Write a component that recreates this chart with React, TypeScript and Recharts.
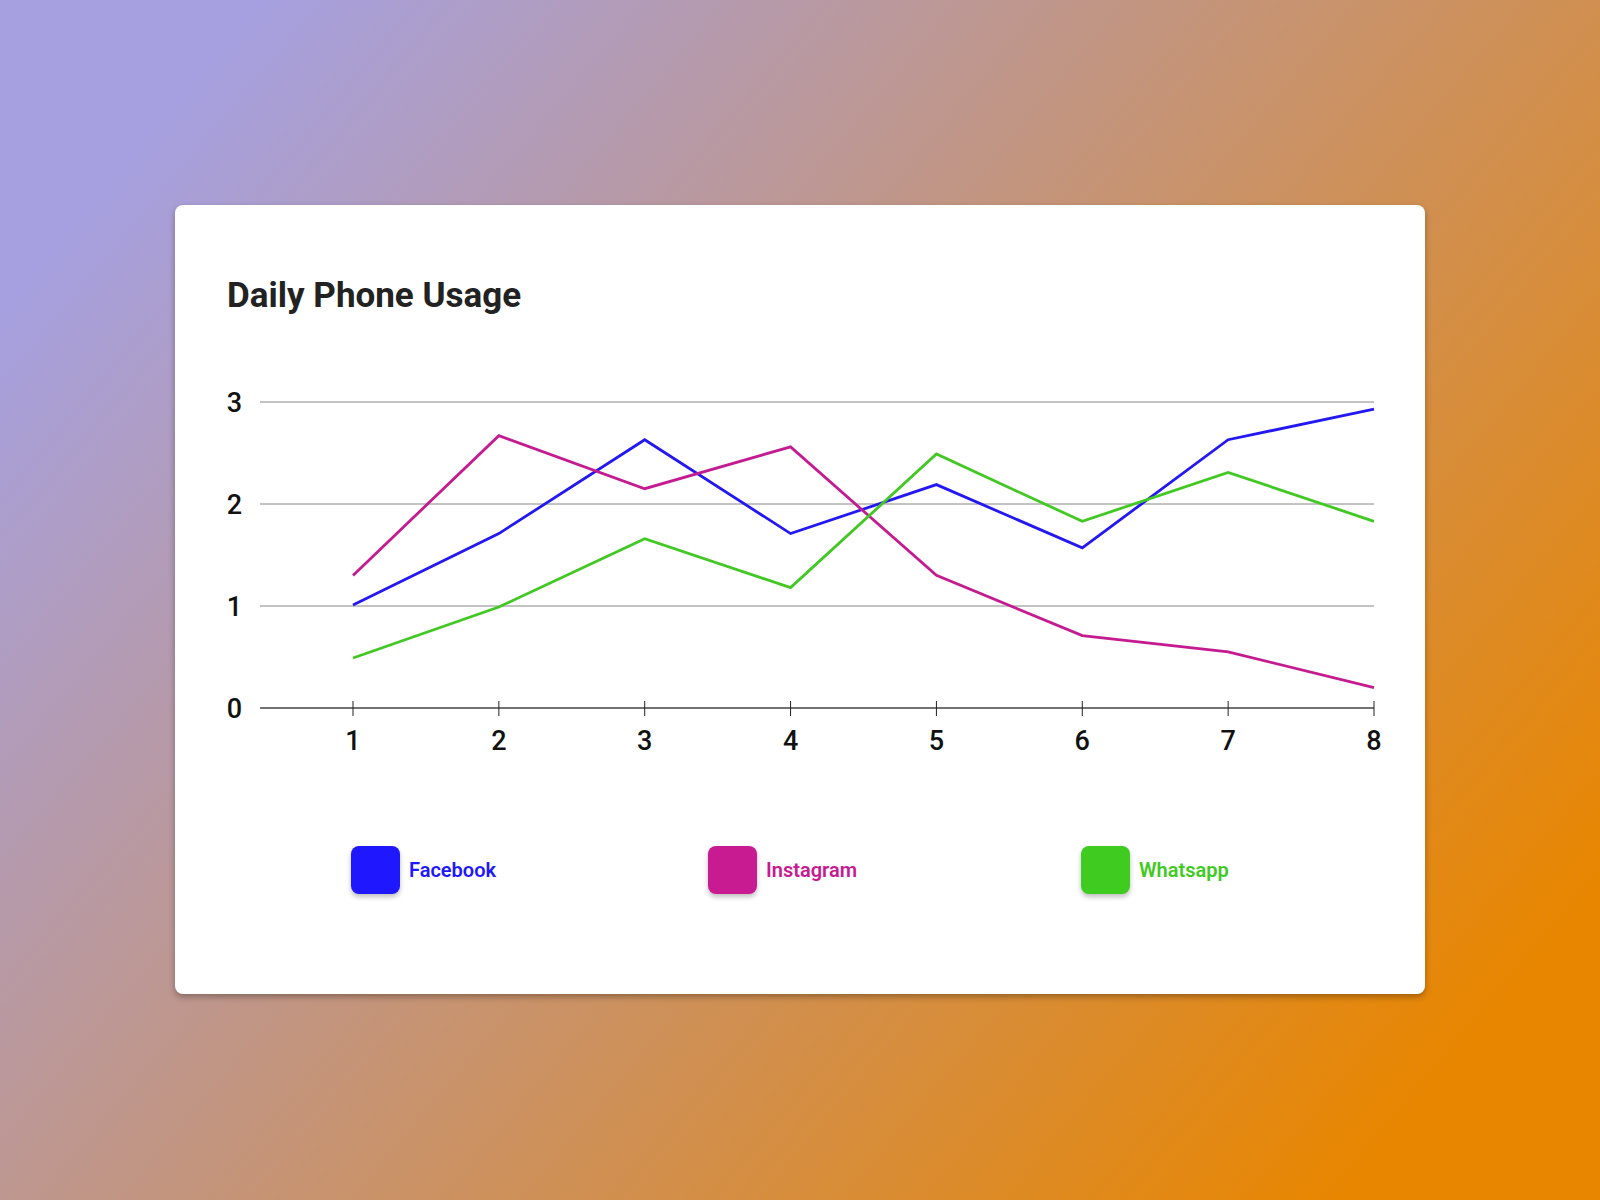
import React from "react";
import {
  LineChart,
  Line,
  XAxis,
  YAxis,
  CartesianGrid,
  Legend,
} from "recharts";

const DAYS = [1, 2, 3, 4, 5, 6, 7, 8];
const FACEBOOK = [1.01, 1.71, 2.63, 1.71, 2.19, 1.57, 2.63, 2.93];
const INSTAGRAM = [1.3, 2.67, 2.15, 2.56, 1.3, 0.71, 0.55, 0.2];
const WHATSAPP = [0.49, 0.99, 1.66, 1.18, 2.49, 1.83, 2.31, 1.83];
const Y_TICKS = [0, 1, 2, 3];

const FONT = "Roboto, 'Noto Sans', sans-serif";

const COLORS: Record<string, string> = {
  Facebook: "#1f18ff",
  Instagram: "#c81a91",
  Whatsapp: "#3fcb1f",
};

// left offset of each legend item inside the chart box
const LEGEND_LEFT: Record<string, number> = {
  Facebook: 176,
  Instagram: 533,
  Whatsapp: 906,
};

const data = DAYS.map((day, i) => ({
  day,
  Facebook: FACEBOOK[i],
  Instagram: INSTAGRAM[i],
  Whatsapp: WHATSAPP[i],
}));

function XTick(props: any) {
  const { x, y, payload } = props;
  return (
    <g>
      <line x1={x} x2={x} y1={y - 7} y2={y + 8} stroke="#222" strokeWidth={1} />
      <text
        x={x}
        y={y + 42}
        textAnchor="middle"
        fill="#111"
        fontSize={27}
        fontFamily={FONT}
        fontWeight={500}
      >
        {payload.value}
      </text>
    </g>
  );
}

function LegendContent(props: any) {
  const items = props.payload || [];
  return (
    <div style={{ position: "relative", width: 1250, height: 50 }}>
      {items.map((item: any) => (
        <div
          key={item.value}
          style={{
            position: "absolute",
            left: LEGEND_LEFT[item.value],
            top: 0,
            display: "flex",
            alignItems: "center",
          }}
        >
          <div
            style={{
              width: 49,
              height: 48,
              borderRadius: 8,
              background: COLORS[item.value],
              boxShadow: "0 3px 5px rgba(0,0,0,0.25)",
            }}
          />
          <span
            style={{
              marginLeft: 9,
              fontFamily: FONT,
              fontWeight: 600,
              fontSize: 20,
              color: COLORS[item.value],
            }}
          >
            {item.value}
          </span>
        </div>
      ))}
    </div>
  );
}

export default function App() {
  return (
    <div
      style={{
        position: "fixed",
        left: 0,
        top: 0,
        width: 1600,
        height: 1200,
        background: "linear-gradient(130deg, #a6a0e0 10%, #e88600 90%)",
        fontFamily: FONT,
      }}
    >
      <div
        style={{
          position: "absolute",
          left: 175,
          top: 205,
          width: 1250,
          height: 789,
          background: "#fff",
          borderRadius: 8,
          boxShadow: "0 3px 6px rgba(0,0,0,0.3)",
        }}
      >
        <div
          style={{
            position: "absolute",
            left: 52,
            top: 73,
            fontSize: 35,
            lineHeight: "35px",
            fontWeight: 700,
            color: "#222",
          }}
        >
          Daily Phone Usage
        </div>
        <div style={{ position: "absolute", left: 0, top: 175 }}>
          <LineChart
            width={1250}
            height={580}
            data={data}
            margin={{ top: 22, right: 51, bottom: 0, left: 0 }}
          >
            <CartesianGrid vertical={false} stroke="#888" strokeWidth={1} />
            <XAxis
              dataKey="day"
              type="number"
              domain={[1, 8]}
              ticks={DAYS}
              padding={{ left: 93, right: 0 }}
              height={252}
              tickSize={0}
              tickMargin={0}
              tickLine={false}
              axisLine={{ stroke: "#222", strokeWidth: 1 }}
              tick={<XTick />}
              interval={0}
            />
            <YAxis
              domain={[0, 3]}
              ticks={Y_TICKS}
              width={85}
              axisLine={false}
              tickLine={false}
              tickSize={0}
              tickMargin={18}
              tick={{ fill: "#111", fontSize: 27, fontFamily: FONT, fontWeight: 500 }}
            />
            <Legend
              layout="horizontal"
              verticalAlign="middle"
              align="center"
              wrapperStyle={{ position: "absolute", left: 0, top: 466, width: 1250 }}
              content={<LegendContent />}
            />
            <Line
              type="linear"
              dataKey="Facebook"
              stroke="#2418f2"
              strokeWidth={2.8}
              dot={false}
              isAnimationActive={false}
            />
            <Line
              type="linear"
              dataKey="Instagram"
              stroke="#c41c90"
              strokeWidth={2.8}
              dot={false}
              isAnimationActive={false}
            />
            <Line
              type="linear"
              dataKey="Whatsapp"
              stroke="#42c823"
              strokeWidth={2.8}
              dot={false}
              isAnimationActive={false}
            />
          </LineChart>
        </div>
      </div>
    </div>
  );
}
